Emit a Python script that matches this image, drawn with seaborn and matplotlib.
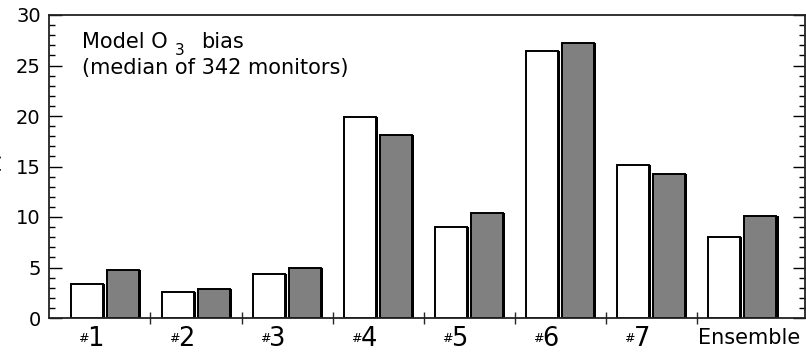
import numpy as np
import pandas as pd
import seaborn as sns
import matplotlib.pyplot as plt
import matplotlib.patheffects as pe
import matplotlib.transforms as mtransforms
from matplotlib.ticker import FixedLocator, MultipleLocator, NullFormatter

# Median model O3 bias (ppb) for each model run and the ensemble
categories = ["#1", "#2", "#3", "#4", "#5", "#6", "#7", "Ensemble"]
bias_set_a = [3.4, 2.6, 4.4, 19.9, 9.0, 26.4, 15.1, 8.0]
bias_set_b = [4.8, 2.9, 5.0, 18.1, 10.4, 27.2, 14.3, 10.1]
series = ["Set A", "Set B"]
y_ticks = [0, 5, 10, 15, 20, 25, 30]

df = pd.DataFrame({
    "model": categories * 2,
    "bias": bias_set_a + bias_set_b,
    "set": [series[0]] * len(categories) + [series[1]] * len(categories),
})

sns.set_theme(style="ticks")
plt.rcParams["font.family"] = ["DejaVu Sans"]
plt.rcParams["mathtext.fontset"] = "dejavusans"

W, H = 806, 352
fig = plt.figure(figsize=(W / 100, H / 100), dpi=100)
fig.patch.set_facecolor("white")
ax = fig.add_axes([49 / W, 1 - 318 / H, 756 / W, 303 / H])
ax.set_facecolor("white")

sns.barplot(data=df, x="model", y="bias", hue="set", order=categories,
            hue_order=series, palette=["white", "#808080"], saturation=1,
            width=0.8, gap=0.12, edgecolor="black", linewidth=1.4,
            legend=False, ax=ax)

# Give each bar a dark right-hand edge
for p in ax.patches:
    p.set_path_effects([
        pe.SimplePatchShadow(offset=(1.5, 0), shadow_rgbFace="black", alpha=1.0),
        pe.Normal(),
    ])

ax.set_ylim(0, 30)
ax.set_xlim(-0.615, 7.69)
ax.yaxis.set_major_locator(FixedLocator(y_ticks))
ax.yaxis.set_minor_locator(MultipleLocator(1))
ax.tick_params(axis="y", which="both", direction="in", left=True, right=True,
               labelleft=True, labelright=False, width=1.0, colors="black",
               labelsize=14, pad=6)
ax.tick_params(axis="y", which="major", length=9)
ax.tick_params(axis="y", which="minor", length=4.5)

ax.xaxis.set_major_locator(FixedLocator([i + 0.5 for i in range(len(categories) - 1)]))
ax.xaxis.set_major_formatter(NullFormatter())
ax.tick_params(axis="x", which="major", direction="inout", length=9, width=1.0,
               bottom=True, top=False)
ax.tick_params(axis="x", which="minor", bottom=False, top=False)

for s in ax.spines.values():
    s.set_visible(True)
    s.set_linewidth(1.3)
    s.set_color("#222222")

ax.set_xlabel("")
ax.set_ylabel("(ppb)", fontsize=14)
ax.yaxis.set_label_coords(-0.064, 0.55)

# Category labels with a small '#' before the model number
trans = mtransforms.blended_transform_factory(ax.transData, ax.transAxes)
for i, cat in enumerate(categories):
    if cat.startswith("#"):
        ax.text(i - 0.297, -0.079, "#", transform=trans, fontsize=9,
                ha="left", va="baseline", color="black", clip_on=False)
        ax.text(i - 0.195, -0.092, cat[1:], transform=trans, fontsize=18.5,
                ha="left", va="baseline", color="black", clip_on=False)
    else:
        ax.text(i - 0.49, -0.086, cat, transform=trans, fontsize=15,
                ha="left", va="baseline", color="black", clip_on=False)

# Panel annotation
def px(x, y):
    return ((x - 49) / 756, (318 - y) / 303)

ax.text(*px(82, 48), "Model O", transform=ax.transAxes, fontsize=15,
        ha="left", va="baseline", color="black")
ax.text(*px(175, 55), "3", transform=ax.transAxes, fontsize=11,
        ha="left", va="baseline", color="black")
ax.text(*px(201, 48), "bias", transform=ax.transAxes, fontsize=15,
        ha="left", va="baseline", color="black")
ax.text(*px(82, 74), "(median of 342 monitors)", transform=ax.transAxes,
        fontsize=15, ha="left", va="baseline", color="black")

fig.savefig("out.png", dpi=100, facecolor="white")
